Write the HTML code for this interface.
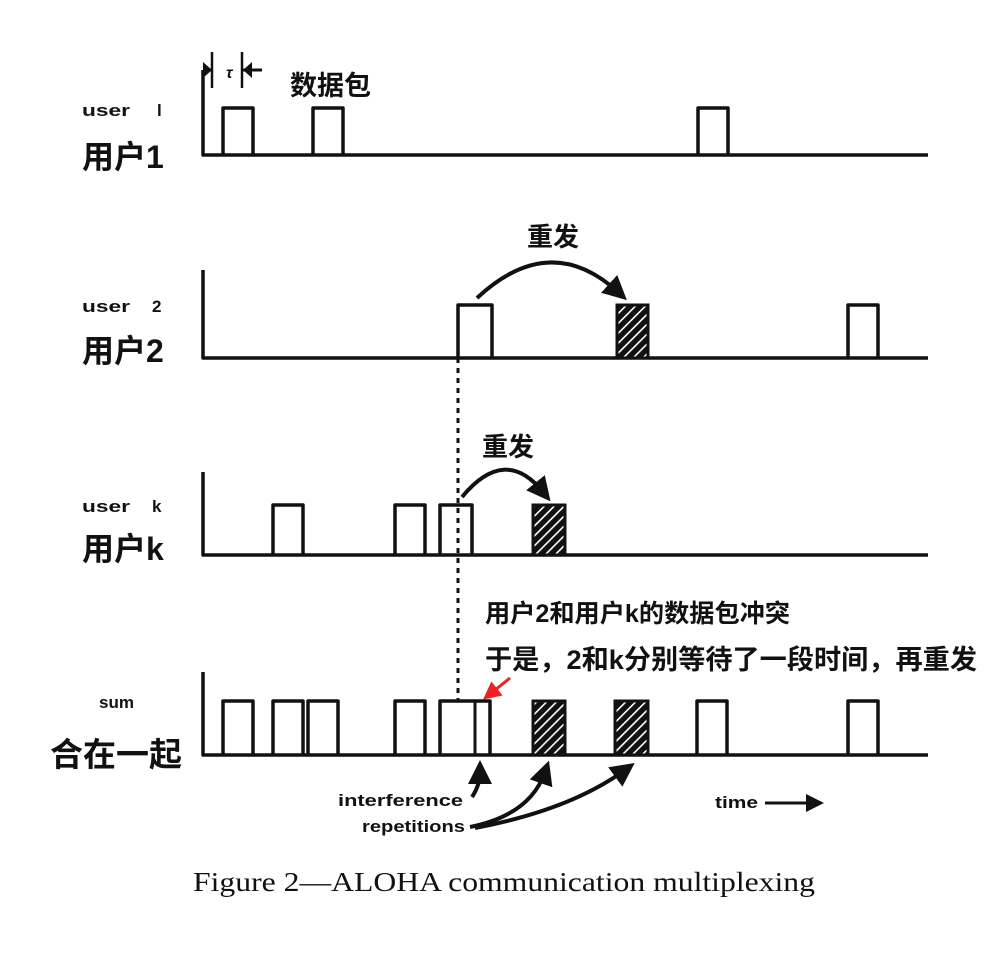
<!DOCTYPE html>
<html><head><meta charset="utf-8"><style>
html,body{margin:0;padding:0;background:#fff;}
svg{display:block;}
.cj{font-family:"Liberation Sans","Noto Sans CJK SC",sans-serif;font-weight:bold;fill:#111;}
.en{font-family:"Liberation Sans",sans-serif;font-weight:bold;fill:#111;}
</style></head><body>
<svg width="989" height="957" viewBox="0 0 989 957" xmlns="http://www.w3.org/2000/svg">
<defs>
<pattern id="h" patternUnits="userSpaceOnUse" width="7" height="7" patternTransform="rotate(45)">
<rect width="7" height="7" fill="#111"/><rect x="0" y="0" width="1.6" height="7" fill="#fff"/>
</pattern>
<marker id="ah" markerWidth="6" markerHeight="6" refX="3" refY="3" orient="auto" markerUnits="strokeWidth">
<path d="M0,0 L6,3 L0,6 z" fill="#111"/></marker>
<marker id="ahr" markerWidth="6" markerHeight="6" refX="3" refY="3" orient="auto" markerUnits="strokeWidth">
<path d="M0,0 L6,3 L0,6 z" fill="#e22"/></marker>
</defs>
<g fill="none" stroke="#111" stroke-width="3.5" stroke-linejoin="round">
<path d="M203,70 L203,155 L928,155"/>
<path d="M223,155 V108 H253 V155"/>
<path d="M313,155 V108 H343 V155"/>
<path d="M698,155 V108 H728 V155"/>
<path d="M203,70 H212" stroke-width="3"/>
<path d="M212,52 V88 M242,52 V88" stroke-width="2.5"/>
<path d="M243,70 H262" stroke-width="3"/>
<path d="M203,270 L203,358 L928,358"/>
<path d="M458,358 V305 H492 V358"/>
<path d="M848,358 V305 H878 V358"/>
<path d="M203,472 L203,555 L928,555"/>
<path d="M273,555 V505 H303 V555"/>
<path d="M395,555 V505 H425 V555"/>
<path d="M440,555 V505 H472 V555"/>
<path d="M203,672 L203,755 L928,755"/>
<path d="M223,755 V701 H253 V755"/>
<path d="M273,755 V701 H303 V755"/>
<path d="M308,755 V701 H338 V755"/>
<path d="M395,755 V701 H425 V755"/>
<path d="M440,755 V701 H490 V755"/>
<path d="M475,701 V755" stroke-width="3"/>
<path d="M697,755 V701 H727 V755"/>
<path d="M848,755 V701 H878 V755"/>
<path d="M458,358 V700" stroke-dasharray="5,5" stroke-width="3"/>
</g>
<g stroke="#111" stroke-width="3">
<rect x="617" y="305" width="31" height="53" fill="url(#h)"/>
<rect x="533" y="505" width="32" height="50" fill="url(#h)"/>
<rect x="533" y="701" width="32" height="54" fill="url(#h)"/>
<rect x="615" y="701" width="33" height="54" fill="url(#h)"/>
</g>
<path d="M203,62 L212,70 L203,78 z M252,62 L243,70 L252,78 z" fill="#111"/>
<text x="226" y="78" class="en" font-size="16" font-style="italic">τ</text>
<g fill="none" stroke="#111" stroke-width="4">
<path d="M477,298 Q550,230 618,292" marker-end="url(#ah)"/>
<path d="M462,497 Q505,445 543,492" marker-end="url(#ah)"/>
<path d="M472,797 Q480,785 480,772" marker-end="url(#ah)" stroke-width="4"/>
<path d="M470,827 Q530,815 545,772" marker-end="url(#ah)"/>
<path d="M475,828 Q570,810 625,770" marker-end="url(#ah)"/>
<path d="M765,803 H815" marker-end="url(#ah)" stroke-width="3"/>
</g>
<path d="M510,678 L490,694" stroke="#e22" stroke-width="3" fill="none" marker-end="url(#ahr)"/>
<text x="82" y="116" class="en" font-size="17" textLength="48" lengthAdjust="spacingAndGlyphs">user</text>
<text x="157" y="116" class="en" font-size="17">l</text>
<text x="82" y="168" class="cj" font-size="32">用户1</text>
<text x="82" y="312" class="en" font-size="17" textLength="48" lengthAdjust="spacingAndGlyphs">user</text>
<text x="152" y="312" class="en" font-size="17">2</text>
<text x="82" y="362" class="cj" font-size="32">用户2</text>
<text x="82" y="512" class="en" font-size="17" textLength="48" lengthAdjust="spacingAndGlyphs">user</text>
<text x="152" y="512" class="en" font-size="17">k</text>
<text x="82" y="560" class="cj" font-size="32">用户k</text>
<text x="99" y="708" class="en" font-size="17">sum</text>
<text x="50" y="766" class="cj" font-size="33">合在一起</text>
<text x="290" y="95" class="cj" font-size="27">数据包</text>
<text x="527" y="246" class="cj" font-size="26">重发</text>
<text x="482" y="456" class="cj" font-size="26">重发</text>
<text x="485" y="622" class="cj" font-size="25" textLength="305" lengthAdjust="spacingAndGlyphs">用户2和用户k的数据包冲突</text>
<text x="485" y="669" class="cj" font-size="27" textLength="492" lengthAdjust="spacingAndGlyphs">于是，2和k分别等待了一段时间，再重发</text>
<text x="338" y="806" class="en" font-size="17" textLength="125" lengthAdjust="spacingAndGlyphs">interference</text>
<text x="362" y="832" class="en" font-size="17" textLength="103" lengthAdjust="spacingAndGlyphs">repetitions</text>
<text x="715" y="808" class="en" font-size="17" textLength="43" lengthAdjust="spacingAndGlyphs">time</text>
<text x="193" y="891" font-family="'Liberation Serif',serif" font-size="27" fill="#111" textLength="622" lengthAdjust="spacingAndGlyphs">Figure 2—ALOHA communication multiplexing</text>
</svg>
</body></html>
